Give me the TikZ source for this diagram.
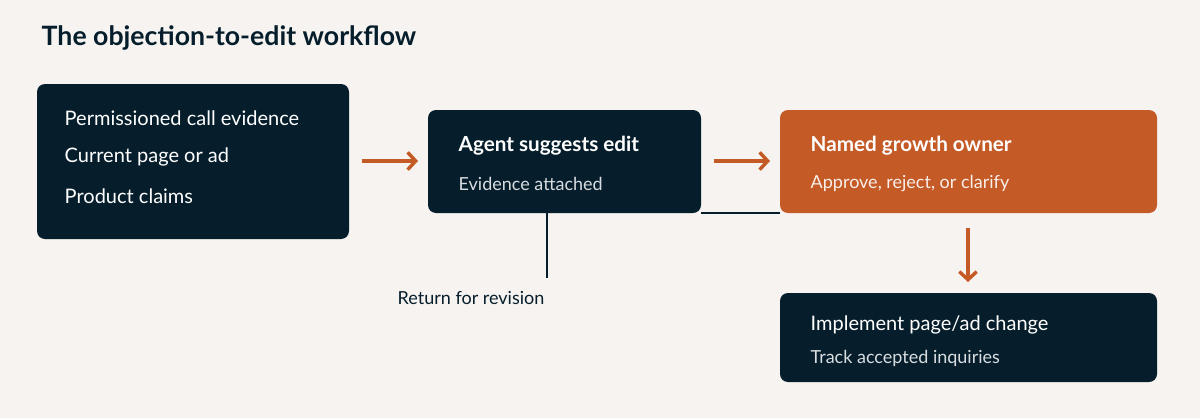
\documentclass[tikz,border=0pt]{standalone}
\usepackage{fontspec}
\setmainfont{Lato}
\usetikzlibrary{arrows.meta}
\definecolor{bg}{HTML}{F7F3F0}
\definecolor{navy}{HTML}{061E2C}
\definecolor{rust}{HTML}{C45A26}
\definecolor{sub}{HTML}{D8DDE0}
\begin{document}
\begin{tikzpicture}[x=0.75pt,y=-0.75pt,
  box/.style={draw=none,rounded corners=6pt},
  txt/.style={anchor=west,text=white,font=\fontsize{15}{18}\selectfont},
  bold/.style={anchor=west,text=white,font=\bfseries\fontsize{15.5}{18}\selectfont},
  subt/.style={anchor=west,text=sub,font=\fontsize{13.5}{16}\selectfont},
  arr/.style={draw=rust,line width=2.6pt,-{Straight Barb[length=6pt,width=13pt]}},
  conn/.style={draw=navy,line width=2.2pt}]
\fill[bg] (0,0) rectangle (1200,418);
\useasboundingbox (0,0) rectangle (1200,418);
\node[anchor=west,text=navy,font=\bfseries\fontsize{20}{24}\selectfont] (title) at (37,38) {The objection-to-edit workflow};
\fill[navy,rounded corners=6pt] (37,84) rectangle (349,239);
\node (b1) at (193,161) {};
\node[txt] (t1) at (60,118) {Permissioned call evidence};
\node[txt] (t2) at (60,157) {Current page or ad};
\node[txt] (t3) at (60,196) {Product claims};
\fill[navy,rounded corners=6pt] (428,110) rectangle (701,213);
\node (b2) at (564,161) {};
\node[bold] (t4) at (454,146) {Agent suggests edit};
\node[subt] (t5) at (454,184) {Evidence attached};
\fill[rust,rounded corners=6pt] (780,110) rectangle (1157,213);
\node[bold] (t6) at (806,146) {Named growth owner};
\node[subt,text=white!90!rust] (t7) at (806,184) {Approve, reject, or clarify};
\fill[navy,rounded corners=6pt] (780,293) rectangle (1157,382);
\node[txt] (t8) at (806,325) {Implement page/ad change};
\node[subt] (t9) at (806,358) {Track accepted inquiries};
\coordinate (a1s) at (362,161); \coordinate (a1e) at (418,161);
\coordinate (a2s) at (714,161); \coordinate (a2e) at (770,161);
\coordinate (a3s) at (968,228); \coordinate (a3e) at (968,282);
\draw[arr] (a1s) -- (a1e);
\draw[arr] (a2s) -- (a2e);
\draw[arr] (a3s) -- (a3e);
\coordinate (r1) at (701,213); \coordinate (r2) at (780,213);
\coordinate (r3) at (547,213); \coordinate (r4) at (547,278);
\draw[conn] (r1) -- (r2);
\draw[conn] (r3) -- (r4);
\node[text=navy,font=\fontsize{13.5}{16}\selectfont] (lbl) at (471,298) {Return for revision};
\end{tikzpicture}
\end{document}
